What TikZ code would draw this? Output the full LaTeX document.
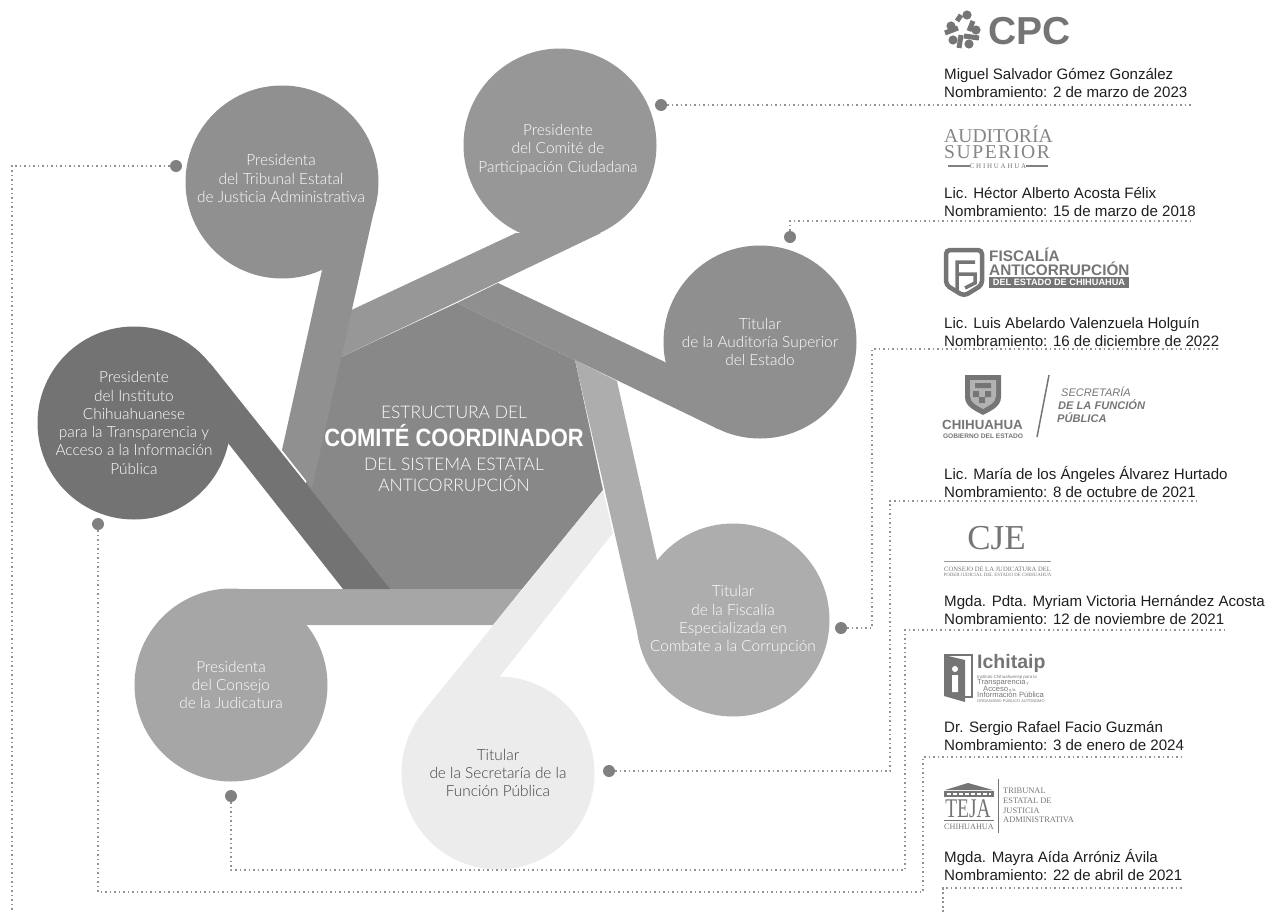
\documentclass[tikz,border=0pt]{standalone}
\usepackage{fontspec}
\setmainfont{Liberation Sans}
\newfontfamily\thinfont{Lato Light}
\newfontfamily\seriffont{Liberation Serif}
\newfontfamily\tallfont[FakeStretch=.877]{Liberation Sans}
\newfontfamily\tejafont[FakeStretch=.72]{Liberation Serif}
\definecolor{ink}{HTML}{1E1E1E}
\definecolor{logo}{HTML}{757575}
\definecolor{dotc}{HTML}{808080}
\definecolor{linec}{HTML}{929292}
\definecolor{cTri}{HTML}{909090}
\definecolor{cCpc}{HTML}{979797}
\definecolor{cAud}{HTML}{8F8F8F}
\definecolor{cFis}{HTML}{ADADAD}
\definecolor{cSec}{HTML}{ECECEC}
\definecolor{cCon}{HTML}{A6A6A6}
\definecolor{cIns}{HTML}{737373}
\definecolor{cPen}{HTML}{888888}
\begin{document}
\begin{tikzpicture}[x=1pt, y=-1pt,
  main/.style = {circle, minimum size=193pt, inner sep=0pt, align=center, text=white, font=\thinfont\fontsize{15.4}{18.3}\selectfont},
  word/.style = {inner sep=0pt, align=center, text=white, font=\thinfont\fontsize{15.4}{18.3}\selectfont},
  dot/.style = {circle, fill=dotc, minimum size=12pt, inner sep=0pt},
  link/.style = {linec, line width=1.7pt, dash pattern=on 1.7pt off 2.8pt},
  person/.style = {anchor=west, inner sep=0pt, align=left, text=ink, font=\fontsize{15.1}{18}\selectfont},
  logomid/.style = {inner sep=0pt, text=logo},
  logoleft/.style = {anchor=west, inner sep=0pt, align=left, text=logo}]
\useasboundingbox (0,0) rectangle (1271,913);
\fill[cPen] (457,303) -- (339,358) -- (305,487) -- (390,595) -- (522,589) -- (603,490) -- (575,360) -- cycle;
\fill[cCpc] (339,358) -- (345,313) -- (516,233) -- (601,233) -- cycle;
\fill[cTri] (322,270) -- (282,450) -- (312,488) -- (376,202) -- cycle;
\fill[cFis] (575,360) -- (617,381) -- (657,560) -- (700,640) -- (639,640) -- cycle;
\fill[cAud] (457,303) -- (498,283) -- (665,362) -- (718,429) -- cycle;
\fill[cCon] (231,589) -- (522,589) -- (493,625) -- (307,625) -- cycle;
\fill[cSec] (603,490) -- (613,533) -- (497,680) -- (423,712) -- cycle;
\fill[cIns] (210,363) -- (390,589) -- (343,589) -- (228,443) -- cycle;
\node[main, fill=cTri] (tribunal) at (282,182) {};
\node[word] (tribunaltext) at (281,178.5) {Presidenta\\del Tribunal Estatal\\de Justicia Administrativa};
\node[main, fill=cCpc] (cpc) at (560,145) {};
\node[word] (cpctext) at (558,149.5) {Presidente\\del Comité de\\Participación Ciudadana};
\node[main, fill=cAud] (auditoria) at (760,342) {Titular\\de la Auditoría Superior\\del Estado};
\node[main, fill=cFis] (fiscalia) at (733,620) {Titular\\de la Fiscalía\\Especializada en\\Combate a la Corrupción};
\node[main, fill=cSec, text=black!75] (secretaria) at (498,773) {Titular\\de la Secretaría de la\\Función Pública};
\node[main, fill=cCon] (consejo) at (231,685) {Presidenta\\del Consejo\\de la Judicatura};
\node[main, fill=cIns] (instituto) at (134,423) {Presidente\\del Instituto\\Chihuahuanese\\para la Transparencia y\\Acceso a la Información\\Pública};
\node[align=center, inner sep=0pt, text=white, font=\thinfont\fontsize{17.4}{21}\selectfont] (titulo) at (454,449) {ESTRUCTURA DEL\\[5pt]{\tallfont\bfseries\fontsize{25}{26}\selectfont COMITÉ COORDINADOR}\\[3pt]DEL SISTEMA ESTATAL\\ANTICORRUPCIÓN};
\node[dot] (d1) at (661,105) {};
\node[dot] (d2) at (790,237) {};
\node[dot] (d3) at (841,628) {};
\node[dot] (d4) at (609,771) {};
\node[dot] (d5) at (231,796) {};
\node[dot] (d6) at (98,524) {};
\node[dot] (d7) at (176,166) {};
\coordinate (e1) at (1192,105);
\coordinate (e2) at (1192,221);
\coordinate (e3) at (1220,349);
\coordinate (e4) at (1197,501);
\coordinate (e5) at (1224,630);
\coordinate (e6) at (1183,757);
\coordinate (e7) at (1183,888);
\coordinate (c3) at (872,628);
\coordinate (c4) at (890,771);
\coordinate (c5) at (905,870);
\coordinate (c6) at (923,892);
\coordinate (c7) at (12,912);
\coordinate (c8) at (943,912);
\draw[link] (d1) -- (e1);
\draw[link] (d2) |- (e2);
\draw[link] (d3) -- (c3) |- (e3);
\draw[link] (d4) -- (c4) |- (e4);
\draw[link] (d5) |- (c5) |- (e5);
\draw[link] (d6) |- (c6) |- (e6);
\draw[link] (d7) -| (c7);
\draw[link] (c8) |- (e7);
\node[person] (p1) at (944,83) {Miguel Salvador Gómez González\\Nombramiento: 2 de marzo de 2023};
\node[person] (p2) at (944,202) {Lic. Héctor Alberto Acosta Félix\\Nombramiento: 15 de marzo de 2018};
\node[person] (p3) at (944,332) {Lic. Luis Abelardo Valenzuela Holguín\\Nombramiento: 16 de diciembre de 2022};
\node[person] (p4) at (944,482) {Lic. María de los Ángeles Álvarez Hurtado\\Nombramiento: 8 de octubre de 2021};
\node[person] (p5) at (944,610) {Mgda. Pdta. Myriam Victoria Hernández Acosta\\Nombramiento: 12 de noviembre de 2021};
\node[person] (p6) at (944,736) {Dr. Sergio Rafael Facio Guzmán\\Nombramiento: 3 de enero de 2024};
\node[person] (p7) at (944,865) {Mgda. Mayra Aída Arróniz Ávila\\Nombramiento: 22 de abril de 2021};
% logos
\fill[logo] (967,15) circle (4.6) (951,26) circle (4.6) (976,30) circle (4.6) (953,40) circle (4.6) (969,44) circle (4.6);
\draw[logo, line width=5pt] (957,21) -- (961,15) (973,21) -- (969,31) (945,33) -- (958,28) (979,38) -- (964,36) (961,35) -- (959,48);
\node[logoleft, font=\bfseries\fontsize{39}{39}\selectfont] (cpclogo) at (988,31) {CPC};
\node[logoleft, text=black!48, font=\seriffont\fontsize{19.6}{16}\selectfont] (audlogo) at (944,134.5) {AUDITORÍA};
\node[logoleft, text=black!48, font=\seriffont\fontsize{19.6}{16}\addfontfeature{LetterSpace=8}\selectfont] (suplogo) at (944,152.5) {SUPERIOR};
\node[logomid, font=\seriffont\fontsize{7}{7}\selectfont] (audsub) at (998,166) {C H I H U A H U A};
\draw[black!50, line width=1.5pt] (948,166) -- (970,166) (1026,166) -- (1048,166);
\draw[logo, line width=4.5pt, rounded corners=4pt] (946,250) -- (982,250) -- (982,285) -- (964,296) -- (946,285) -- cycle;
\draw[logo, line width=3.5pt] (957,290) -- (957,262) -- (975,262) (957,274) -- (975,274) -- (975,283) -- (965,288);
\node[logoleft, font=\bfseries\fontsize{15.3}{16}\selectfont] (fislogo) at (989,254.5) {FISCALÍA};
\node[logoleft, font=\bfseries\fontsize{15.3}{16}\selectfont] (antilogo) at (989,268.5) {ANTICORRUPCIÓN};
\node[logomid, fill=logo, text=white, minimum width=140pt, minimum height=11pt, font=\bfseries\fontsize{9.2}{9}\selectfont] (dellogo) at (1059,282.5) {DEL ESTADO DE CHIHUAHUA};
\fill[logo] (965,375) -- (1001,375) -- (1001,397) .. controls (1001,407) and (990,411) .. (983,415) .. controls (976,411) and (965,407) .. (965,397) -- cycle;
\fill[black!30] (970,380) -- (996,380) -- (996,396) .. controls (996,403) and (988,406) .. (983,409) .. controls (978,406) and (970,403) .. (970,396) -- cycle;
\fill[logo] (973,391) rectangle (979,397) (985,391) rectangle (991,397) (979,397) rectangle (985,403) (975,383) rectangle (991,388);
\node[logomid, font=\bfseries\fontsize{13.3}{14}\selectfont] (chilogo) at (982.5,425) {CHIHUAHUA};
\node[logomid, font=\bfseries\fontsize{6.6}{8}\selectfont] (gobiogo) at (983,436) {GOBIERNO DEL ESTADO};
\draw[logo, line width=1.5pt] (1049,375) -- (1037,437);
\node[logoleft, font=\itshape\fontsize{11}{14}\selectfont] (seclogo) at (1061,392) {SECRETARÍA};
\node[logoleft, font=\bfseries\itshape\fontsize{11.1}{14}\selectfont] (funlogo) at (1058,405) {DE LA FUNCIÓN};
\node[logoleft, font=\bfseries\itshape\fontsize{11.1}{14}\selectfont] (publogo) at (1057,418) {PÚBLICA};
\node[logomid, font=\seriffont\fontsize{35}{35}\selectfont] (cjelogo) at (996.5,538) {CJE};
\draw[black!40, line width=.8pt] (944,561) -- (1051,561);
\node[logomid, font=\seriffont\fontsize{6.6}{6}\selectfont] (cjea) at (997.5,569) {CONSEJO DE LA JUDICATURA DEL};
\node[logomid, font=\seriffont\fontsize{4.85}{5}\selectfont] (cjeb) at (997.5,575) {PODER JUDICIAL DEL ESTADO DE CHIHUAHUA};
\fill[logo] (944,655) -- (965,660) -- (965,702) -- (944,696) -- cycle;
\draw[logo, line width=2pt] (944,655) -- (972,655) -- (972,697) -- (965,697);
\fill[white] (955,669) circle (3) (952,675) rectangle (958,692);
\node[logoleft, font=\bfseries\fontsize{19.5}{20}\selectfont] (ichlogo) at (977,663) {Ichitaip};
\node[logoleft, font=\fontsize{4.4}{5}\selectfont] (icha) at (977,677) {Instituto Chihuahuense para la};
\node[logoleft, font=\fontsize{7.6}{7}\selectfont] (ichb) at (977,683) {Transparencia{\fontsize{4}{5}\selectfont\ y}};
\node[logoleft, font=\fontsize{7.6}{7}\selectfont] (ichc) at (983,688.5) {Acceso{\fontsize{4}{5}\selectfont\ a la}};
\node[logoleft, font=\fontsize{7.6}{7}\selectfont] (ichd) at (977,695) {Información Pública};
\node[logoleft, font=\fontsize{3.95}{4}\selectfont] (iche) at (977,701) {ORGANISMO PÚBLICO AUTÓNOMO};
\fill[logo] (945,790) -- (968,783) -- (993,790) -- cycle;
\fill[logo] (944,791) rectangle (994,797);
\draw[white, line width=2.5pt, dash pattern=on 4pt off 2pt] (947,794) -- (991,794);
\node[logomid, font=\tejafont\fontsize{27}{27}\selectfont] (tejalogo) at (968,809) {TEJA};
\draw[logo, line width=1.5pt] (944,820.5) -- (994,820.5);
\node[logomid, font=\seriffont\fontsize{8.2}{9}\selectfont] (tejasub) at (969,826.5) {CHIHUAHUA};
\draw[logo, line width=.8pt] (998,779) -- (998,833);
\node[logoleft, font=\seriffont\fontsize{8.4}{9.7}\selectfont] (teja) at (1003,805.5) {TRIBUNAL\\ESTATAL DE\\JUSTICIA\\ADMINISTRATIVA};
\end{tikzpicture}
\end{document}
